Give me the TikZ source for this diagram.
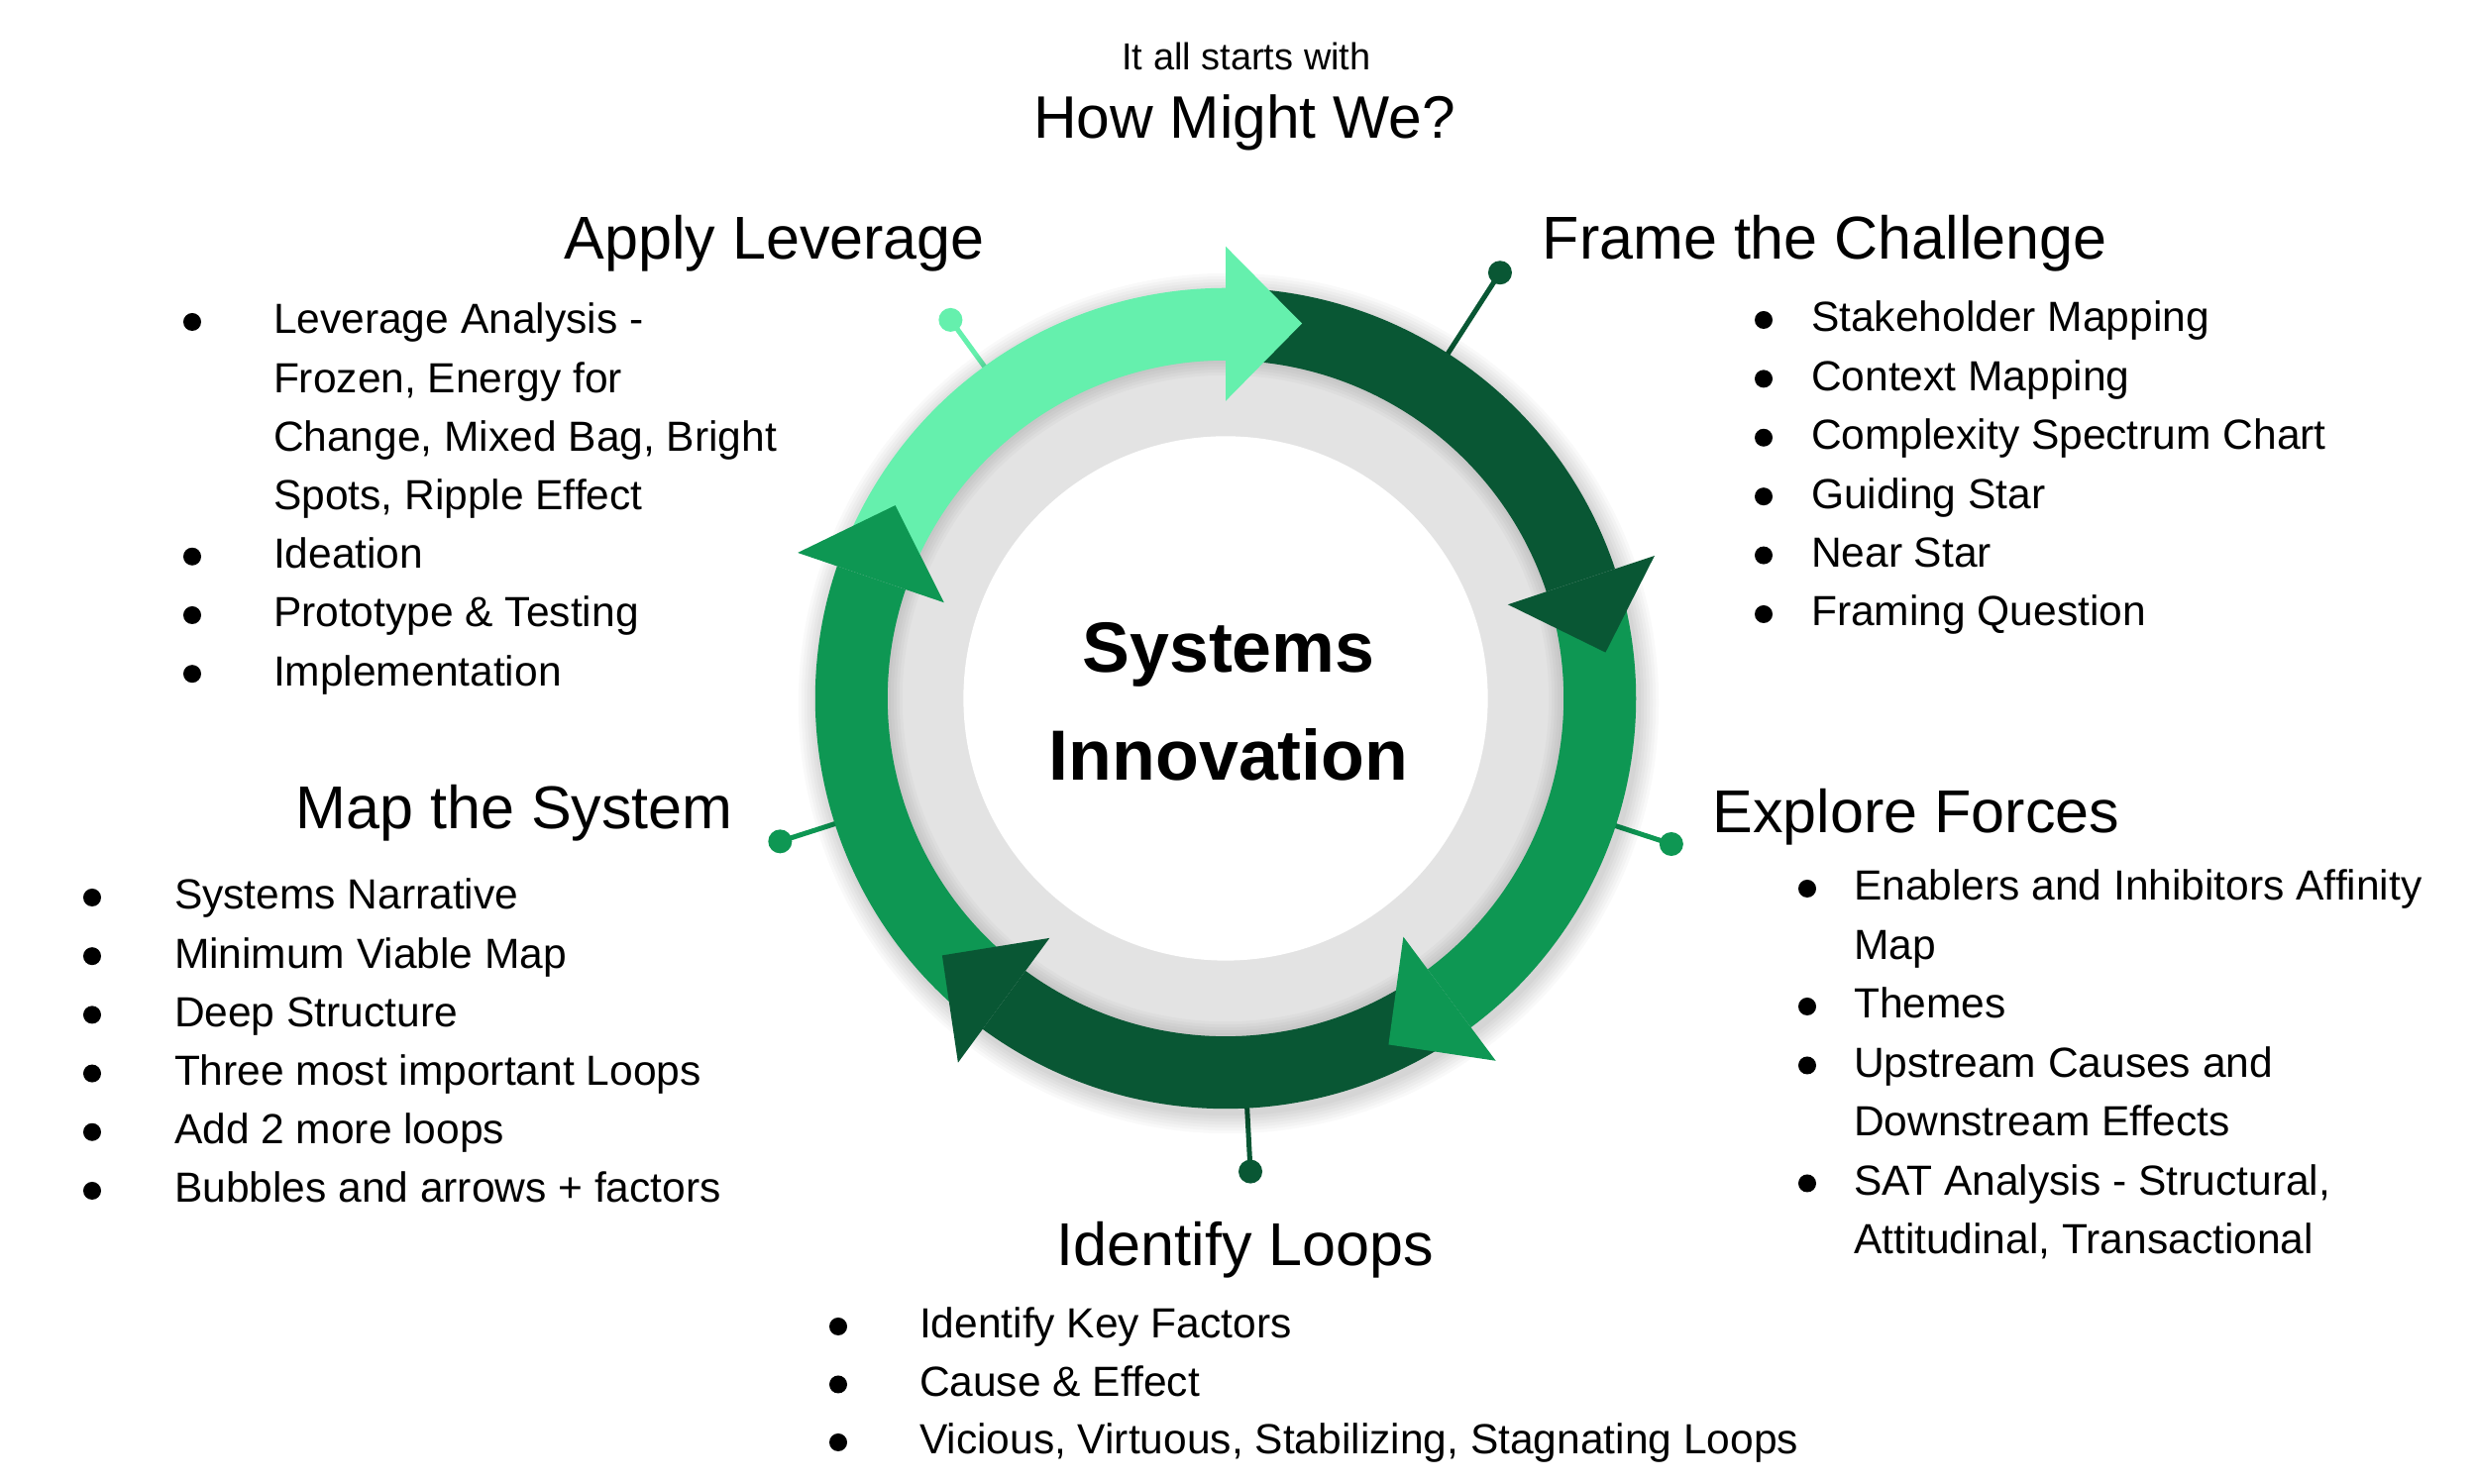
\documentclass[tikz,border=0pt]{standalone}
\usepackage{fontspec}
\setmainfont{Liberation Sans}
\usetikzlibrary{calc}
\definecolor{lightg}{HTML}{65F0AD}
\definecolor{medg}{HTML}{0E9753}
\definecolor{darkg}{HTML}{095734}
\definecolor{ringgray}{HTML}{E3E3E3}
\begin{document}
\begin{tikzpicture}[x=0.01cm,y=0.01cm,
  body/.style={font=\fontsize{12.09}{14}\selectfont, anchor=base west, inner sep=0pt, outer sep=0pt},
  headtxt/.style={font=\fontsize{17.36}{20}\selectfont, anchor=base west, inner sep=0pt},
  bul/.style={circle, fill=black, inner sep=0pt, minimum size=0.18cm},
  pinline/.style={line width=0.05cm},
  pindot/.style={circle, inner sep=0pt, minimum size=0.24cm},
  centertxt/.style={font=\bfseries\fontsize{20.4}{24}\selectfont, anchor=base, inner sep=0pt}
]
\useasboundingbox (0,0) rectangle (2500,1498);
\fill[white] (0,0) rectangle (2500,1498);

% ---------- top text
\node[anchor=base, inner sep=0pt, font=\fontsize{10.8}{13}\selectfont] (intro) at (1258,1427) {It all starts with};
\node[anchor=base, inner sep=0pt, font=\fontsize{17.2}{20}\selectfont] (hmw) at (1256,1358) {How Might We?};

% ---------- pins (under the ring)
\begin{scope}[shift={(1237,793)}]
  \coordinate (pa0) at (126:3.9cm);
  \node[pindot, fill=lightg] (pa) at (126:4.72cm) {};
  \draw[pinline, lightg] (pa0) -- (pa.center);
  \coordinate (pf0) at (57.2:3.9cm);
  \node[pindot, fill=darkg] (pf) at (57.2:5.11cm) {};
  \draw[pinline, darkg] (pf0) -- (pf.center);
  \coordinate (pe0) at (-18.1:3.9cm);
  \node[pindot, fill=medg] (pe) at (-18.1:4.73cm) {};
  \draw[pinline, medg] (pe0) -- (pe.center);
  \coordinate (pi0) at (-87:3.9cm);
  \node[pindot, fill=darkg] (pi) at (-87:4.78cm) {};
  \draw[pinline, darkg] (pi0) -- (pi.center);
  \coordinate (pm0) at (197.8:3.9cm);
  \node[pindot, fill=medg] (pm) at (197.8:4.72cm) {};
  \draw[pinline, medg] (pm0) -- (pm.center);

  % soft outer shadow
  \foreach \r in {4.16,4.19,...,4.34}
    \fill[black, opacity=0.022] (0.03cm,-0.05cm) circle[radius=\r cm];

  % gray ring and white disc
  \fill[ringgray] (0,0) circle[radius=3.50cm];
  \foreach \r in {3.26,3.29,...,3.41}
    \fill[black, opacity=0.022, even odd rule] (0,0) circle[radius=3.45cm] circle[radius=\r cm];
  \fill[white] (0,0) circle[radius=2.645cm];

  % arrow bodies
  \fill[lightg] (155.2:4.14cm) arc[start angle=155.2, end angle=90, radius=4.14cm]
     -- (90:3.41cm) arc[start angle=90, end angle=155.2, radius=3.41cm] -- cycle;
  \fill[darkg] (84:4.14cm) arc[start angle=84, end angle=18.4, radius=4.14cm]
     -- (18.4:3.41cm) arc[start angle=18.4, end angle=84, radius=3.41cm] -- cycle;
  \fill[medg] (12.4:4.14cm) arc[start angle=12.4, end angle=-53.3, radius=4.14cm]
     -- (-53.3:3.41cm) arc[start angle=-53.3, end angle=12.4, radius=3.41cm] -- cycle;
  \fill[darkg] (-59.3:4.14cm) arc[start angle=-59.3, end angle=-126.3, radius=4.14cm]
     -- (-126.3:3.41cm) arc[start angle=-126.3, end angle=-59.3, radius=3.41cm] -- cycle;
  \fill[medg] (-132.3:4.14cm) arc[start angle=-132.3, end angle=-198.8, radius=4.14cm]
     -- (-198.8:3.41cm) arc[start angle=-198.8, end angle=-132.3, radius=3.41cm] -- cycle;

  % arrow heads
  \fill[lightg] (90:4.56cm) -- (78.5:3.86cm) -- (90:3.00cm) -- cycle;
  \fill[darkg] (18.4:4.56cm) -- (6.9:3.86cm) -- (18.4:3.00cm) -- cycle;
  \fill[medg] (-53.3:4.56cm) -- (-64.8:3.86cm) -- (-53.3:3.00cm) -- cycle;
  \fill[darkg] (-126.3:4.56cm) -- (-137.8:3.86cm) -- (-126.3:3.00cm) -- cycle;
  \fill[medg] (161.2:4.56cm) -- (149.7:3.86cm) -- (161.2:3.00cm) -- cycle;
\end{scope}

% ---------- center text
\node[centertxt] (sys) at (1240,819) {Systems};
\node[centertxt] (inno) at (1240,710) {Innovation};

% ---------- headings
\node[headtxt] (happly) at (569,1236) {Apply Leverage};
\node[headtxt] (hframe) at (1556,1236) {Frame the Challenge};
\node[headtxt] (hmap) at (298,661) {Map the System};
\node[headtxt] (hexpl) at (1728,657) {Explore Forces};
\node[headtxt] (hident) at (1066,220) {Identify Loops};

% ---------- Apply Leverage list
\foreach \t [count=\i from 0] in {{Leverage Analysis -},{Frozen, Energy for},{Change, Mixed Bag, Bright},{Spots, Ripple Effect},{Ideation},{Prototype \& Testing},{Implementation}}
  \node[body] (ap\i) at (276,{1161-59.2*\i}) {\t};
\foreach \i in {0,4,5,6}
  \node[bul] (apb\i) at (194,{1173-59.2*\i}) {};

% ---------- Frame the Challenge list
\foreach \t [count=\i from 0] in {{Stakeholder Mapping},{Context Mapping},{Complexity Spectrum Chart},{Guiding Star},{Near Star},{Framing Question}}
  \node[body] (fr\i) at (1828,{1163-59.4*\i}) {\t};
\foreach \i in {0,...,5}
  \node[bul] (frb\i) at (1780,{1175-59.4*\i}) {};

% ---------- Explore Forces list
\foreach \t [count=\i from 0] in {{Enablers and Inhibitors Affinity},{Map},{Themes},{Upstream Causes and},{Downstream Effects},{SAT Analysis - Structural,},{Attitudinal, Transactional}}
  \node[body] (ex\i) at (1871,{589-59.5*\i}) {\t};
\foreach \i in {0,2,3,5}
  \node[bul] (exb\i) at (1824,{601-59.5*\i}) {};

% ---------- Map the System list
\foreach \t [count=\i from 0] in {{Systems Narrative},{Minimum Viable Map},{Deep Structure},{Three most important Loops},{Add 2 more loops},{Bubbles and arrows + factors}}
  \node[body] (ms\i) at (176,{580-59.2*\i}) {\t};
\foreach \i in {0,...,5}
  \node[bul] (msb\i) at (93,{592-59.2*\i}) {};

% ---------- Identify Loops list
\foreach \t [count=\i from 0] in {{Identify Key Factors},{Cause \& Effect},{Vicious, Virtuous, Stabilizing, Stagnating Loops}}
  \node[body] (il\i) at (928,{147-58.5*\i}) {\t};
\foreach \i in {0,1,2}
  \node[bul] (ilb\i) at (846,{159-58.5*\i}) {};
\end{tikzpicture}
\end{document}
